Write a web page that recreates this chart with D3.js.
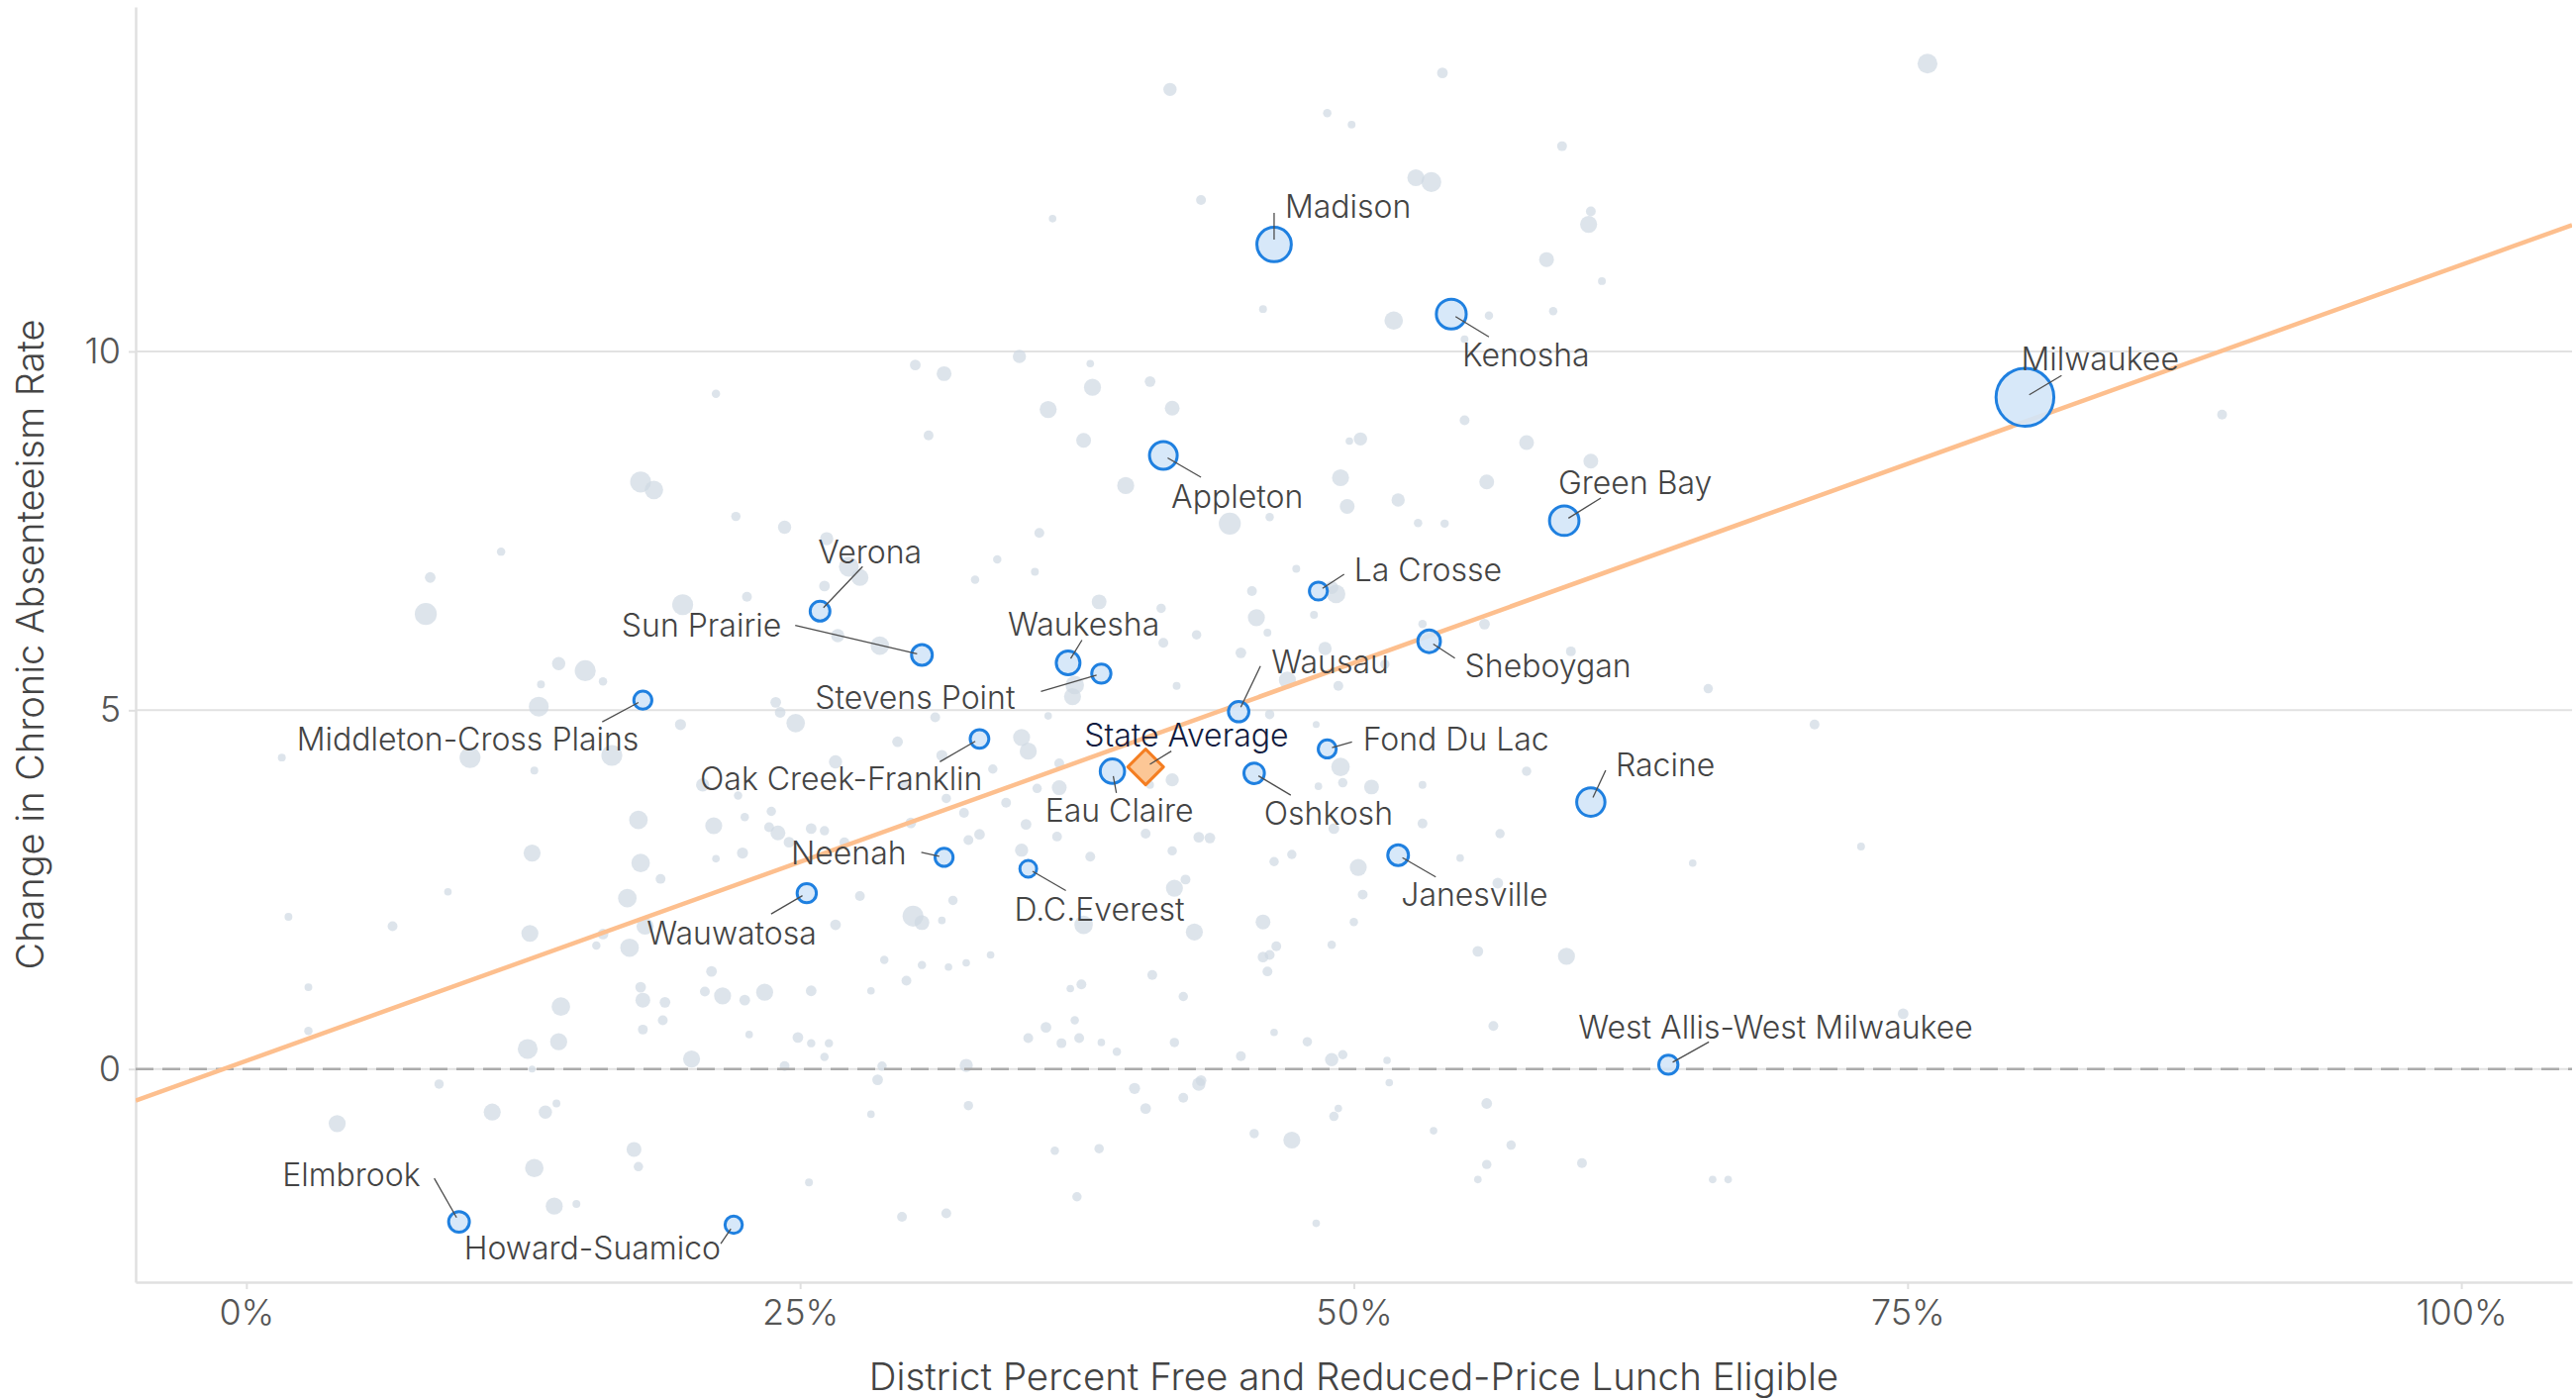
<!DOCTYPE html>
<html>
<head>
<meta charset="utf-8">
<script src="https://cdn.jsdelivr.net/npm/d3@7"></script>
<style>
  body { margin: 0; background: #fff; }
  svg { display: block; font-family: Inter, "Noto Sans", sans-serif; font-weight: 300; }
</style>
</head>
<body>
<svg id="chart" width="2602" height="1412"></svg>
<script>
// labelled districts: % free/reduced lunch, change in chronic absenteeism, enrollment
const districts = ["Madison", "Kenosha", "Milwaukee", "Appleton", "Green Bay", "La Crosse", "Verona",
  "Sun Prairie", "Waukesha", "Stevens Point", "Sheboygan", "Wausau", "Middleton-Cross Plains",
  "Oak Creek-Franklin", "Eau Claire", "Oshkosh", "Fond Du Lac", "Racine", "Neenah", "D.C.Everest",
  "Janesville", "Wauwatosa", "West Allis-West Milwaukee", "Elmbrook", "Howard-Suamico"];
const frl = [46.4, 54.4, 80.3, 41.4, 59.5, 48.4, 25.9, 30.5, 37.1, 38.6, 53.4, 44.8, 17.9,
  33.1, 39.1, 45.5, 48.8, 60.7, 31.5, 35.3, 52.0, 25.3, 64.2, 9.6, 22.0];
const change = [11.49, 10.52, 9.36, 8.55, 7.64, 6.66, 6.38, 5.77, 5.66, 5.51, 5.96, 4.98, 5.14,
  4.60, 4.15, 4.12, 4.46, 3.72, 2.95, 2.79, 2.98, 2.45, 0.06, -2.13, -2.17];
const enrollment = [27000, 20300, 76000, 17500, 19800, 7400, 8900, 9800, 12800, 8400, 11600, 9500, 7400,
  7900, 13500, 9500, 7400, 18200, 7400, 6400, 9800, 8400, 8400, 9800, 6800];

const stateAverage = { frl: 40.6, change: 4.21 };

// fitted trend line, read at both plot edges
const trendX = [-5, 105];
const trendY = [-0.44, 11.76];

// all other districts: [frl %, change, enrollment]
const otherDistricts = [
  [21.2,9.41,1600],[17.8,8.18,10000],[18.4,8.07,7800],[22.1,7.70,2000],[24.3,7.55,4000],[11.5,7.21,1600],
  [8.3,6.85,2600],[8.1,6.34,11000],[26.2,7.39,4000],[27.2,7.0,9000],[27.7,6.85,6600],[26.1,6.73,2600],
  [22.6,6.58,2200],[19.7,6.47,10000],[26.7,6.04,4000],[28.6,5.90,7800],[14.1,5.65,4000],[15.3,5.55,10000],
  [16.1,5.40,1600],[13.3,5.36,1400],
  [41.7,13.65,4000],[54.0,13.88,2600],[48.8,13.32,1600],[49.9,13.16,1400],[59.4,12.86,2200],[52.8,12.42,6600],
  [53.5,12.36,9000],[43.1,12.11,2200],[36.4,11.85,1300],[60.7,11.95,2200],[60.6,11.77,6600],[58.7,11.28,5000],
  [61.2,10.98,1400],[45.9,10.59,1400],[51.8,10.43,7800],[56.1,10.5,1600],[59.0,10.56,1600],[55.0,10.17,1400],
  [34.9,9.93,4000],[30.2,9.81,2600],[31.5,9.69,5000],[38.1,9.83,1300],[40.8,9.58,2600],[38.2,9.50,6600],
  [36.2,9.19,6600],[41.8,9.21,5000],[55.0,9.04,2200],[30.8,8.83,2200],[37.8,8.76,5000],[49.8,8.75,1300],
  [50.3,8.78,4000],[57.8,8.73,5000],[60.7,8.47,5000],[49.4,8.24,6600],[56.0,8.18,5000],[39.7,8.13,6600],
  [52.0,7.93,4000],[49.7,7.84,5000],[46.2,7.69,1600],[44.4,7.6,11000],[52.9,7.61,1600],[54.1,7.6,1600],
  [35.8,7.47,2200],[33.9,7.10,1600],[35.6,6.93,1400],[32.9,6.82,1600],[47.4,6.97,1400],[49.2,6.62,7800],
  [49.0,6.71,4000],[45.4,6.66,2200],[38.5,6.51,5000],[41.3,6.42,2000],[45.6,6.29,6600],[48.2,6.33,1400],
  [46.1,6.08,1400],[42.9,6.05,2000],[41.4,5.94,2200],[48.7,5.86,4000],[55.9,6.2,2600],[53.1,6.2,1600],
  [44.9,5.8,2600],[59.8,5.82,2200],[49.3,5.34,2200],[42.0,5.34,1400],[47.0,5.42,6600],[51.4,5.64,2000],
  [66.0,5.30,2000],[37.4,5.35,7800],
  [75.9,14.01,9000],[89.2,9.12,2200],[70.8,4.80,2200],[72.9,3.10,1400],[74.8,0.77,2600],
  [13.2,5.05,9000],[19.6,4.80,2800],[24.8,4.82,7800],[23.9,5.11,2600],[24.1,4.97,2600],[1.6,4.34,1400],
  [10.1,4.34,10000],[16.5,4.37,10000],[13.0,4.16,1400],[26.6,4.28,4000],[20.6,3.96,4000],[22.2,3.81,1600],
  [17.7,3.47,7800],[21.1,3.39,6600],[22.5,3.51,1600],[23.7,3.59,2000],[23.6,3.37,2200],[24.0,3.29,5000],
  [25.5,3.35,2600],[26.1,3.32,2000],[24.5,3.16,2600],[27.0,3.16,2200],[12.9,3.01,6600],[22.4,3.01,2800],
  [17.8,2.87,7800],[21.2,2.93,1300],[18.7,2.65,2200],[9.1,2.47,1300],[17.2,2.38,7800],[27.7,2.41,2200],
  [1.9,2.12,1400],[6.6,1.99,2200],[12.8,1.89,6600],[18.0,1.99,6600],[16.1,1.88,2600],[15.8,1.72,1600],
  [17.3,1.69,7800],[26.6,2.01,2600],[21.0,1.36,2600],[2.8,1.14,1400],[14.2,0.87,7800],[17.8,1.14,2600],
  [17.9,0.96,5000],[18.9,0.93,2600],[18.8,0.68,2200],[20.7,1.08,2200],[21.5,1.02,6600],[22.5,0.96,2600],
  [23.4,1.07,6600],[25.5,1.09,2600],[28.2,1.09,1300],[28.8,1.52,1600],[2.8,0.53,1600],[14.1,0.38,6600],
  [12.7,0.28,9000],[17.9,0.55,2200],[22.7,0.48,1300],[24.9,0.44,2600],[25.5,0.36,1600],[26.3,0.36,1600],
  [26.1,0.17,1600],[20.1,0.14,6600],[24.3,0.04,2200],[12.9,0.0,1100],[28.5,-0.15,2600],[28.7,0.04,2000],
  [8.7,-0.21,2000],[4.1,-0.76,6600],[11.1,-0.6,6600],[13.5,-0.6,4000],[14.0,-0.48,1400],[17.5,-1.12,5000],
  [17.7,-1.36,2000],[13.0,-1.38,7800],[13.9,-1.91,6600],[14.9,-1.88,1400],[25.4,-1.58,1400],[28.2,-0.63,1300],
  [31.1,4.9,2200],[37.3,5.19,6600],[36.2,4.92,1300],[35.0,4.62,6600],[35.3,4.43,6600],[29.4,4.56,2600],
  [31.4,4.37,2800],[36.7,4.26,2200],[33.7,4.18,2000],[41.8,4.03,4000],[46.2,4.94,2000],[48.3,4.80,1100],
  [49.4,4.21,7800],[49.5,3.99,2000],[48.4,3.94,1300],[50.8,3.93,5000],[53.1,3.96,1400],[57.8,4.15,2000],
  [29.7,3.96,2000],[31.6,3.77,2000],[35.7,3.91,2000],[36.7,3.92,5000],[40.8,3.96,1400],[32.4,3.57,2200],
  [34.3,3.71,2200],[35.2,3.41,2600],[36.6,3.24,2200],[40.6,3.28,2200],[30.0,3.43,2600],[32.6,3.19,2200],
  [33.1,3.27,2600],[43.0,3.23,2600],[43.5,3.22,2600],[49.1,3.35,2600],[53.1,3.42,2200],[56.6,3.28,2000],
  [35.0,3.05,4000],[38.1,2.96,2200],[41.8,3.04,2000],[47.2,2.99,2000],[46.4,2.89,2000],[50.2,2.81,6600],
  [54.8,2.94,1300],[65.3,2.87,1300],[42.4,2.64,2200],[41.9,2.52,6600],[50.4,2.43,2200],[56.5,2.59,2600],
  [31.9,2.35,2000],[30.1,2.13,10000],[30.5,2.04,5000],[31.4,2.07,1300],[37.8,2.01,7800],[42.8,1.91,6600],
  [45.9,2.05,5000],[50.0,2.05,1600],[49.0,1.73,1600],[55.6,1.64,2600],[59.6,1.57,6600],[33.6,1.59,1300],
  [30.5,1.45,1600],[31.7,1.42,1300],[32.5,1.48,1300],[29.8,1.23,2200],[45.9,1.56,2600],[46.2,1.59,2200],
  [46.5,1.71,2200],[46.1,1.36,2200],[40.9,1.31,2200],[37.7,1.18,2200],[37.2,1.12,1300],[42.3,1.01,2000],
  [37.4,0.68,1600],[36.1,0.58,2600],[35.3,0.43,2200],[36.8,0.36,2200],[37.6,0.43,2200],[38.6,0.37,1300],
  [39.3,0.24,1600],[41.9,0.37,2000],[44.9,0.18,2200],[46.4,0.51,1300],[47.9,0.38,2000],[49.0,0.13,4000],
  [49.5,0.20,2000],[51.5,0.12,1300],[56.3,0.60,2200],[32.5,0.05,4000],[51.6,-0.19,1300],[40.1,-0.27,2800],
  [42.3,-0.40,2200],[43.0,-0.21,4000],[43.1,-0.16,2600],[40.6,-0.55,2600],[32.6,-0.51,2000],[56.0,-0.48,2600],
  [49.1,-0.66,2000],[49.3,-0.55,1300],[45.5,-0.90,2000],[47.2,-0.99,6600],[53.6,-0.86,1300],[57.1,-1.06,2000],
  [36.5,-1.14,1600],[38.5,-1.11,2000],[56.0,-1.33,2000],[60.3,-1.31,2200],[55.6,-1.54,1300],[66.2,-1.54,1300],
  [66.9,-1.54,1300],[37.5,-1.78,2000],[29.6,-2.06,2200],[31.6,-2.01,2200],[48.3,-2.15,1300]
];

const xTicks = [0, 25, 50, 75, 100];
const yTicks = [0, 5, 10];

// label placement (pixel offsets from the point): text anchor point and leader end
const labelLayout = {
  "Madison": { anchor: "start", tx: 11, ty: -38, lx: 0, ly: -32 },
  "Kenosha": { anchor: "start", tx: 11, ty: 41, lx: 38, ly: 23 },
  "Milwaukee": { anchor: "start", tx: -4, ty: -39, lx: 37, ly: -22 },
  "Appleton": { anchor: "start", tx: 8, ty: 41, lx: 38, ly: 22 },
  "Green Bay": { anchor: "start", tx: -6, ty: -38, lx: 37, ly: -23 },
  "La Crosse": { anchor: "start", tx: 36, ty: -22, lx: 26, ly: -17 },
  "Verona": { anchor: "start", tx: -2, ty: -60, lx: 43, ly: -45 },
  "Sun Prairie": { anchor: "end", tx: -142, ty: -30, lx: -128, ly: -30 },
  "Waukesha": { anchor: "start", tx: -61, ty: -39, lx: 14, ly: -23 },
  "Stevens Point": { anchor: "end", tx: -87, ty: 24, lx: -61, ly: 18 },
  "Sheboygan": { anchor: "start", tx: 36, ty: 25, lx: 26, ly: 17 },
  "Wausau": { anchor: "start", tx: 33, ty: -50, lx: 22, ly: -46 },
  "Middleton-Cross Plains": { anchor: "end", tx: -4, ty: 39, lx: -41, ly: 22 },
  "Oak Creek-Franklin": { anchor: "end", tx: 3, ty: 40, lx: -40, ly: 23 },
  "Eau Claire": { anchor: "start", tx: -68, ty: 40, lx: 4, ly: 22 },
  "Oshkosh": { anchor: "start", tx: 10, ty: 40, lx: 37, ly: 22 },
  "Fond Du Lac": { anchor: "start", tx: 36, ty: -10, lx: 25, ly: -7 },
  "Racine": { anchor: "start", tx: 25, ty: -38, lx: 15, ly: -32 },
  "Neenah": { anchor: "end", tx: -38, ty: -4, lx: -23, ly: -5 },
  "D.C.Everest": { anchor: "start", tx: -14, ty: 41, lx: 38, ly: 22 },
  "Janesville": { anchor: "start", tx: 3, ty: 40, lx: 38, ly: 22 },
  "Wauwatosa": { anchor: "end", tx: 10, ty: 40, lx: -36, ly: 21 },
  "West Allis-West Milwaukee": { anchor: "start", tx: -91, ty: -38, lx: 41, ly: -23 },
  "Elmbrook": { anchor: "end", tx: -39, ty: -48, lx: -25, ly: -44 },
  "Howard-Suamico": { anchor: "end", tx: -13, ty: 23, lx: -13, ly: 19 },
  "State Average": { anchor: "start", tx: -62, ty: -32, lx: 26, ly: -16 }
};

const svg = d3.select("#chart");
const plotLeft = 137, plotRight = 2598, plotTop = 7, plotBottom = 1295;

const x = d3.scaleLinear().domain([-5, 105]).range([plotLeft, plotRight]);
const y = d3.scaleLinear().domain([-2.97, 14.8]).range([plotBottom, plotTop]);
const r = d3.scaleSqrt().domain([0, 76000]).range([0, 29.2]);

const highlighted = districts.map((name, i) => ({
  name: name, frl: frl[i], change: change[i], enrollment: enrollment[i]
}));

// grid lines
svg.append("g")
  .selectAll("line")
  .data(yTicks)
  .join("line")
    .attr("x1", plotLeft)
    .attr("x2", plotRight)
    .attr("y1", d => y(d))
    .attr("y2", d => y(d))
    .attr("stroke", "#e2e2e2")
    .attr("stroke-width", 2);

// axes
const xAxis = svg.append("g")
  .attr("transform", `translate(0,${plotBottom})`)
  .call(d3.axisBottom(x).tickValues(xTicks).tickFormat(d => d + "%").tickSize(7).tickPadding(10).tickSizeOuter(0));
const yAxis = svg.append("g")
  .attr("transform", `translate(${plotLeft},0)`)
  .call(d3.axisLeft(y).tickValues(yTicks).tickSize(7).tickPadding(8).tickSizeOuter(0));

[xAxis, yAxis].forEach(g => {
  g.select(".domain").attr("stroke", "#e0e0e0").attr("stroke-width", 2.5);
  g.selectAll(".tick line").attr("stroke", "#e0e0e0").attr("stroke-width", 2);
  g.selectAll(".tick text")
    .attr("fill", "#555")
    .attr("font-size", 36)
    .attr("font-weight", 300)
    .attr("font-family", "Inter, 'Noto Sans', sans-serif");
});

// other districts
svg.append("g")
  .selectAll("circle")
  .data(otherDistricts)
  .join("circle")
    .attr("cx", d => x(d[0]))
    .attr("cy", d => y(d[1]))
    .attr("r", d => r(d[2]))
    .attr("fill", "#cfd8e3")
    .attr("fill-opacity", 0.7);

// zero reference line
svg.append("line")
  .attr("x1", plotLeft)
  .attr("x2", plotRight)
  .attr("y1", y(0))
  .attr("y2", y(0))
  .attr("stroke", "#ababab")
  .attr("stroke-width", 2.5)
  .attr("stroke-dasharray", "18,9");

// trend line
svg.append("clipPath").attr("id", "plotclip")
  .append("rect")
    .attr("x", plotLeft)
    .attr("y", plotTop)
    .attr("width", plotRight - plotLeft)
    .attr("height", plotBottom - plotTop);
svg.append("path")
  .datum(trendX.map((v, i) => [v, trendY[i]]))
  .attr("clip-path", "url(#plotclip)")
  .attr("d", d3.line().x(d => x(d[0])).y(d => y(d[1])))
  .attr("fill", "none")
  .attr("stroke", "#fdbf8e")
  .attr("stroke-width", 4.5);

// highlighted districts
svg.append("g")
  .selectAll("circle")
  .data(highlighted)
  .join("circle")
    .attr("cx", d => x(d.frl))
    .attr("cy", d => y(d.change))
    .attr("r", d => r(d.enrollment))
    .attr("fill", "#d3e5f8")
    .attr("fill-opacity", 0.9)
    .attr("stroke", "#1f80e0")
    .attr("stroke-width", 3);

// state average diamond
const sx = x(stateAverage.frl), sy = y(stateAverage.change), sd = 18;
svg.append("path")
  .attr("d", `M${sx},${sy - sd}L${sx + sd},${sy}L${sx},${sy + sd}L${sx - sd},${sy}Z`)
  .attr("fill", "#fcc796")
  .attr("stroke", "#f47e22")
  .attr("stroke-width", 3)
  .attr("stroke-linejoin", "round");

// labels and leader lines
const labelled = highlighted.concat([{ name: "State Average", frl: stateAverage.frl, change: stateAverage.change }]);

svg.append("g")
  .attr("stroke", "#4d4d4d")
  .attr("stroke-width", 1.3)
  .selectAll("line")
  .data(labelled)
  .join("line")
    .each(function(d) {
      const L = labelLayout[d.name];
      const cx = x(d.frl), cy = y(d.change);
      const len = Math.hypot(L.lx, L.ly) || 1;
      d3.select(this)
        .attr("x1", cx + L.lx / len * 5)
        .attr("y1", cy + L.ly / len * 5)
        .attr("x2", cx + L.lx)
        .attr("y2", cy + L.ly);
    });

svg.append("g")
  .attr("font-size", 32)
  .selectAll("text")
  .data(labelled)
  .join("text")
    .attr("x", d => x(d.frl) + labelLayout[d.name].tx)
    .attr("y", d => y(d.change) + labelLayout[d.name].ty)
    .attr("dy", "0.36em")
    .attr("text-anchor", d => labelLayout[d.name].anchor)
    .attr("fill", d => d.name === "State Average" ? "#121c40" : "#444")
    .text(d => d.name);

// axis titles
svg.append("text")
  .attr("x", (plotLeft + plotRight) / 2)
  .attr("y", 1390)
  .attr("dy", "0.36em")
  .attr("text-anchor", "middle")
  .attr("font-size", 38.5)
  .attr("fill", "#444")
  .text("District Percent Free and Reduced-Price Lunch Eligible");

svg.append("text")
  .attr("transform", `translate(30,${(plotTop + plotBottom) / 2}) rotate(-90)`)
  .attr("dy", "0.36em")
  .attr("text-anchor", "middle")
  .attr("font-size", 38)
  .attr("fill", "#444")
  .text("Change in Chronic Absenteeism Rate");
</script>
</body>
</html>
